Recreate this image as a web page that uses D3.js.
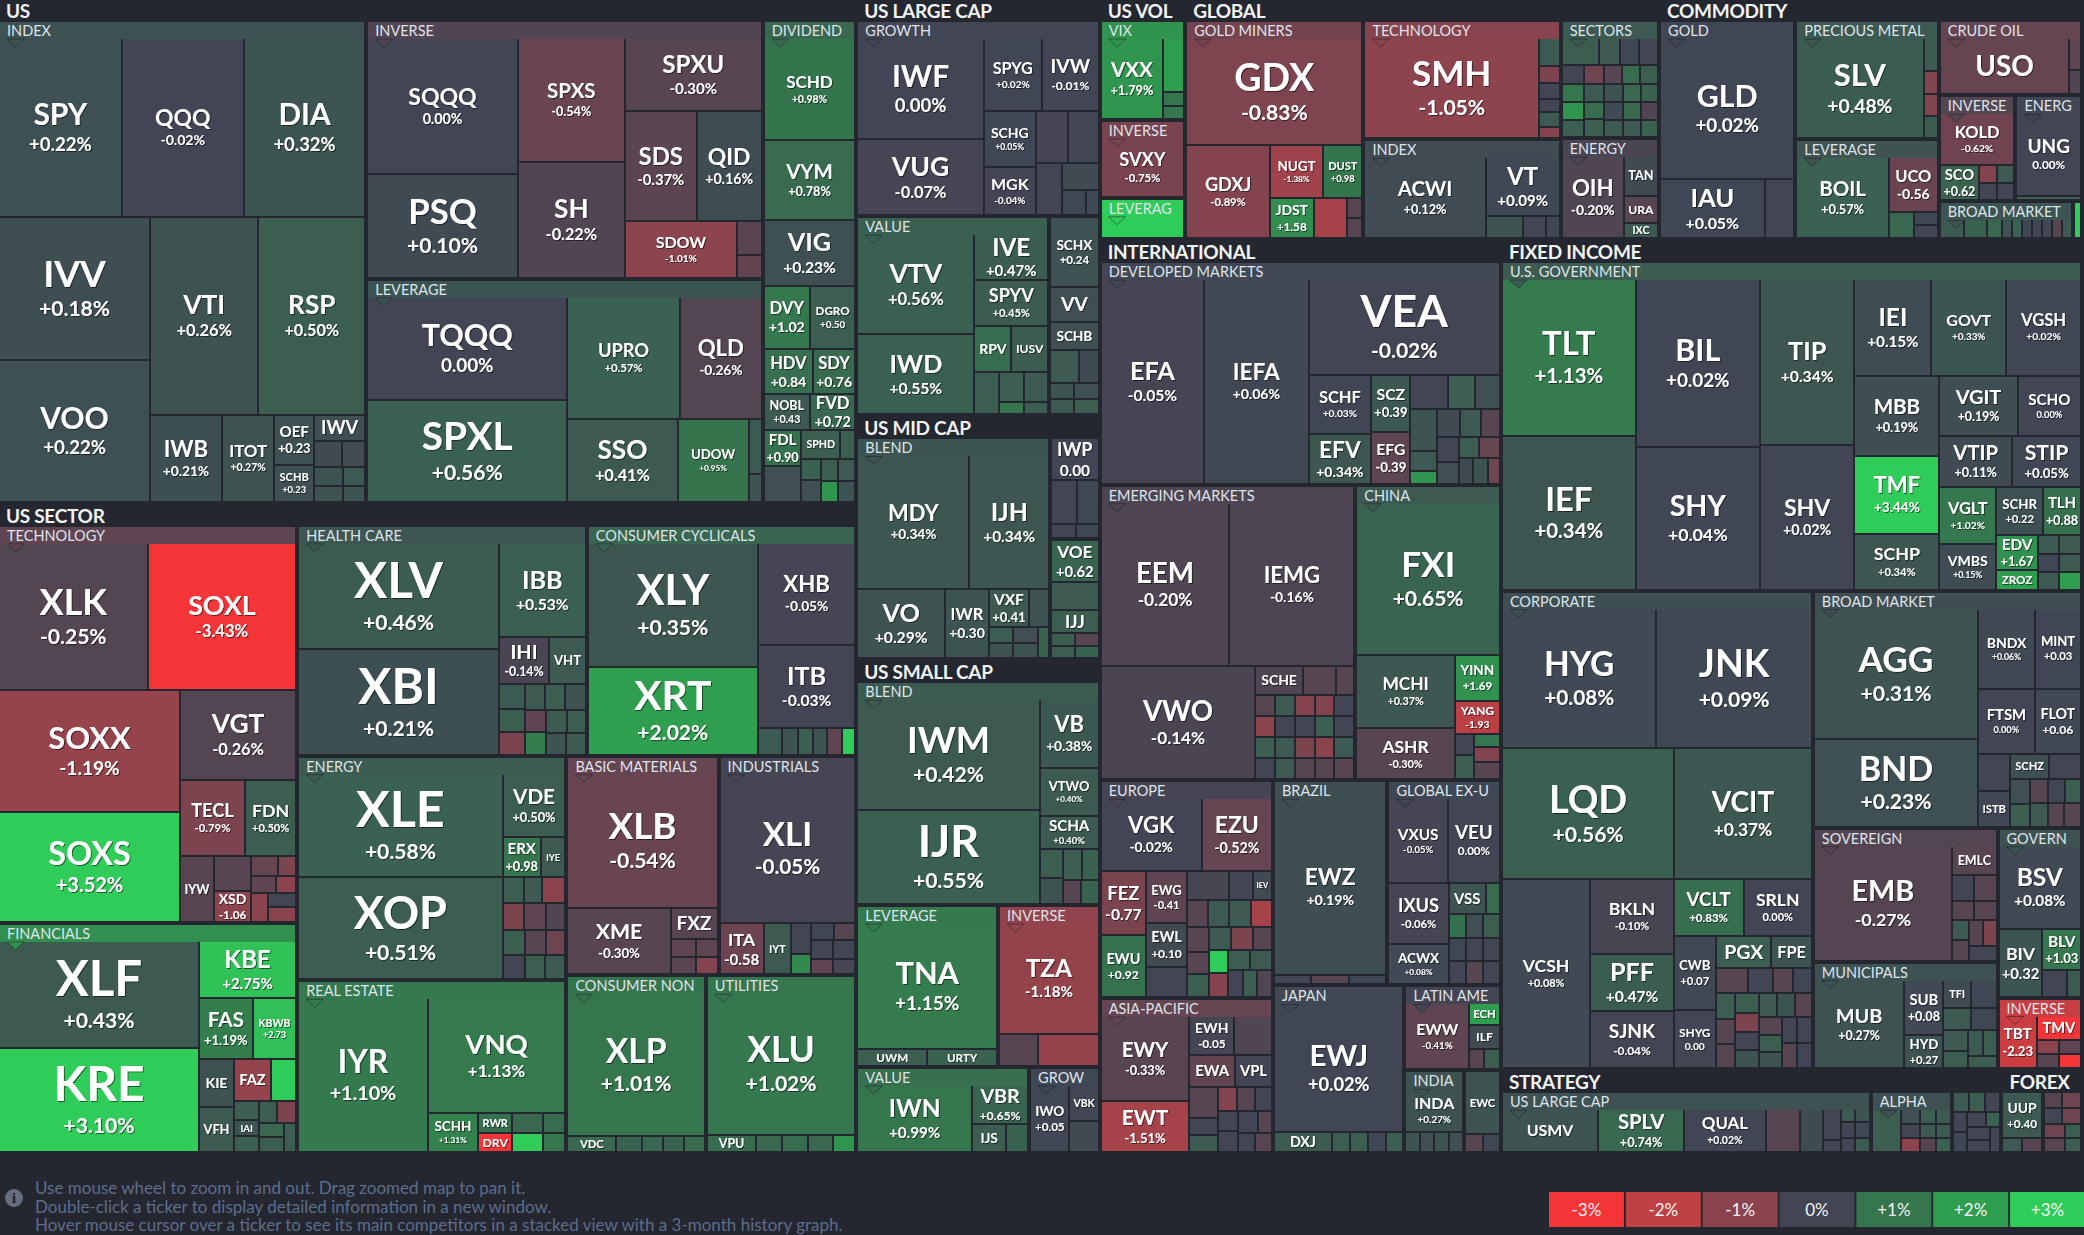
<!DOCTYPE html>
<html>
<head>
<meta charset="utf-8">
<script src="https://cdn.jsdelivr.net/npm/d3@7"></script>
<style>
  html, body { margin: 0; padding: 0; background: #24272f; overflow: hidden; }
  svg { display: block; font-family: Lato, "Open Sans", sans-serif; }
</style>
</head>
<body>
<svg id="map" width="2084" height="1235"></svg>
<script>
// ---- leaf tables: [ticker, % change, size] ----
// US
const usIndex = [["SPY",0.22,21.0],["QQQ",-0.02,20.9],["DIA",0.32,20.8],["IVV",0.18,20.7],["VOO",0.22,20.6],["VTI",0.26,20.5],["RSP",0.50,20.3],
  ["IWB",0.21,6.0],["ITOT",0.27,4.4],["OEF",0.23,1.9],["SCHB",0.23,1.4],["IWV",0.20,1.3],
  ["",0.10,0.7],["",0.12,0.6],["",0.30,0.5],["",0.28,0.45],["",0.40,0.4],["",0.30,0.35]];
const usInverse = [["SQQQ",0.00,19.8],["PSQ",0.10,15.0],["SPXS",-0.54,12.8],["SH",-0.22,12.0],["SPXU",-0.30,9.7],["SDS",-0.37,7.6],
  ["QID",0.16,6.9],["SDOW",-1.01,6.1],["",-0.35,0.8],["",-0.45,0.55]];
const usLeverage = [["TQQQ",0.00,20.0],["SPXL",0.56,19.8],["UPRO",0.57,13.4],["QLD",-0.26,9.7],["SSO",0.41,8.9],["UDOW",0.95,5.7],["",0.40,0.7],["",0.30,0.36]];
const usDividend = [["SCHD",0.98,9.1],["VYM",0.78,7.1],["VIG",0.23,5.8],["DVY",1.02,2.85],["DGRO",0.50,2.8],["HDV",0.84,2.15],["SDY",0.76,1.85],
  ["NOBL",0.43,1.6],["FVD",0.72,1.57],["FDL",0.90,1.33],["",0.20,1.3],["SPHD",0.50,1.1],["",0.50,0.43],["",0.60,0.41],["",0.20,0.41],
  ["",0.50,0.36],["",0.40,0.36],["",1.80,0.34],["",0.30,0.36]];

// US SECTOR
const secTech = [["XLK",-0.25,20.6],["SOXL",-3.43,20.6],["SOXX",-1.19,20.9],["SOXS",3.52,18.8],["VGT",-0.26,9.9],["TECL",-0.79,4.7],["FDN",0.50,3.7],
  ["IYW",-0.30,2.1],["",-0.30,1.2],["XSD",-1.06,1.1],["",-0.50,0.5],["",-0.80,0.34],["",-0.40,0.4],["",-1.00,0.33],["",-1.00,0.45],["",0.00,0.37],["",-1.00,0.4]];
const secFin = [["XLF",0.43,20.2],["KRE",3.10,19.8],["KBE",2.75,5.3],["FAS",1.19,3.1],["KBWB",2.73,2.5],["KIE",0.26,1.6],["VFH",0.40,1.5],["FAZ",-1.20,1.45],
  ["",3.00,1.0],["",0.50,0.46],["IAI",0.30,0.38],["",0.50,0.38],["",0.50,0.38],["",-0.80,0.4],["",0.70,0.34],["",0.50,0.34],["",0.50,0.34]];
const secHealth = [["XLV",0.46,20.0],["XBI",0.21,19.8],["IBB",0.53,7.7],["IHI",-0.14,2.2],["VHT",0.40,1.6],["",0.40,0.6],["",0.50,0.55],["",-0.80,0.55],
  ["",0.40,0.5],["",0.50,0.5],["",0.30,0.5],["",-0.40,0.45],["",1.20,0.45],["",0.40,0.45],["",0.50,0.4],["",0.30,0.4],["",0.40,0.4]];
const secConsCyc = [["XLY",0.35,19.7],["XRT",2.02,14.0],["XHB",-0.05,9.3],["ITB",-0.03,7.6],["",0.40,0.6],["",0.30,0.4],["",0.50,0.36],["",0.30,0.36],["",-0.40,0.36],["",3.00,0.34]];
const secEnergy = [["XLE",0.58,19.5],["XOP",0.51,19.4],["VDE",0.50,3.7],["ERX",0.98,1.4],["IYE",0.40,0.9],["",0.50,0.5],["",0.40,0.45],["",-1.00,0.55],
  ["",-0.80,0.55],["",-0.40,0.55],["",-0.20,0.5],["",0.50,0.5],["",0.00,0.5],["",-0.30,0.5],["",-0.60,0.45],["",0.50,0.45],["",0.40,0.45]];
const secRealEstate = [["IYR",1.10,19.1],["VNQ",1.13,15.1],["SCHH",1.31,1.9],["RWR",0.90,0.67],["DRV",-3.00,0.63],["",0.70,0.6],["",3.00,0.55],["",0.80,0.45],["",1.00,0.4]];
const secBasic = [["XLB",-0.54,19.0],["XME",-0.30,6.5],["FXZ",-0.30,1.4],["",-0.40,0.43],["",-0.35,0.4],["",-0.40,0.37],["",-0.90,0.36]];
const secIndustrials = [["XLI",-0.05,19.0],["ITA",-0.58,2.1],["IYT",0.40,1.3],["",0.00,0.58],["",1.50,0.37],["",0.05,0.36],["",-0.30,0.33],["",0.00,0.38],["",-0.40,0.31],["",0.00,0.4],["",-0.05,0.33]];
const secConsNon = [["XLP",1.01,18.9],["VDC",0.70,0.75],["",0.60,0.4],["",0.70,0.32],["",0.60,0.32],["",0.80,0.32]];
const secUtilities = [["XLU",1.02,18.6],["VPU",0.80,0.77],["",0.70,0.4],["",0.80,0.4],["",0.70,0.38],["",1.80,0.35]];

// US LARGE / MID / SMALL CAP
const lcGrowth = [["IWF",0.00,12.3],["VUG",-0.07,9.2],["SPYG",0.02,4.1],["IVW",-0.01,4.0],["SCHG",0.05,2.8],["MGK",-0.04,2.4],
  ["",-0.05,1.6],["",0.00,1.5],["",0.00,1.3],["",0.10,0.95],["",0.05,0.6],["",0.10,0.3]];
const lcValue = [["VTV",0.56,11.1],["IWD",0.55,8.9],["IVE",0.47,3.2],["SPYV",0.45,3.2],["RPV",0.82,1.6],["IUSV",0.45,1.6],
  ["",0.50,1.0],["",0.50,0.7],["",1.00,0.3],["",0.40,0.7],["",0.50,0.3]];
const lcBlend = [["SCHX",0.24,3.2],["VV",0.20,1.6],["SCHB",0.20,1.3],["",0.40,0.9],["",0.10,0.6],["",0.30,0.35],["",0.40,0.35],["",0.20,0.37],["",0.50,0.37]];
const mcBlend = [["MDY",0.34,13.8],["IJH",0.34,9.8],["VO",0.29,5.6],["IWR",0.30,2.8],["VXF",0.41,1.4],["",0.30,0.7],
  ["",0.50,0.36],["",0.30,0.35],["",0.20,0.36],["",0.30,0.34],["",0.60,0.33]];
const mcGrowth = [["IWP",0.00,1.7],["",0.00,0.96],["",0.05,0.8],["",0.00,0.3],["",0.05,0.28]];
const mcValue = [["VOE",0.62,1.7],["",0.40,1.1],["IJJ",0.50,0.95],["",0.50,0.25],["",0.50,0.25],["",-0.30,0.25],["",0.60,0.25]];
const scBlend = [["IWM",0.42,19.3],["IJR",0.55,16.5],["VB",0.38,3.9],["VTWO",0.40,2.7],["SCHA",0.40,1.9],["",0.50,0.65],["",0.30,0.6],
  ["",0.50,0.55],["",0.60,0.5],["",-0.30,0.4],["",0.60,0.4]];
const scLeverage = [["TNA",1.15,16.9],["UWM",0.50,1.1],["URTY",0.60,1.1]];
const scInverse = [["TZA",-1.18,10.7],["",-0.30,1.2],["",-1.20,1.9]];
const scValue = [["IWN",0.99,7.3],["VBR",0.65,2.1],["IJS",0.50,0.9],["",0.60,0.57]];
const scGrowth = [["IWO",0.05,2.5],["VBK",0.00,1.0],["",0.10,0.85]];

// US VOL
const volVix = [["VXX",1.79,4.9],["",2.00,1.1],["",1.00,0.27],["",1.00,0.27]];
const volInverse = [["SVXY",-0.75,4.8]];
const volLeverage = [["",3.00,1.85]];

// GLOBAL
const glGoldMiners = [["GDX",-0.83,18.3],["GDXJ",-0.89,7.5],["NUGT",-1.38,2.7],["DUST",0.98,2.0],["JDST",1.58,1.7],["",-1.50,1.3],["",-0.30,0.3],["",-0.30,0.3]];
const glTech = [["SMH",-1.05,16.6],["",0.40,0.55],["",-0.80,0.33],["",0.00,0.31],["",0.00,0.27],["",0.40,0.29],["",-0.90,0.22]];
const glIndex = [["ACWI",0.12,9.3],["VT",0.09,4.1],["",0.30,0.8],["",0.00,0.48],["",0.05,0.3]];
const glSectors = [["",0.50,0.9],["",0.40,0.5],["",0.05,0.47],["",0.00,0.45],["",0.00,0.36],["",1.00,0.35],["",1.80,0.35],["",0.50,0.34],
  ["",-0.60,0.34],["",0.40,0.33],["",0.80,0.32],["",0.50,0.32],["",-0.30,0.31],["",0.80,0.31],["",0.50,0.3],["",0.30,0.3],["",0.10,0.3],
  ["",0.40,0.29],["",0.70,0.29],["",0.60,0.28],["",0.70,0.28],["",0.40,0.27],["",-0.20,0.27],["",0.60,0.26]];
const glEnergy = [["OIH",-0.20,4.9],["TAN",0.10,1.3],["URA",-0.30,0.9],["IXC",0.40,0.5]];

// COMMODITY
const cmGold = [["GLD",0.02,17.9],["IAU",0.05,5.8],["",0.00,1.65]];
const cmPrecious = [["SLV",0.48,12.1],["",0.40,0.45],["",-0.90,0.3],["",-0.90,0.3],["",0.40,0.3]];
const cmLeverage = [["BOIL",0.57,7.0],["UCO",-0.56,2.5],["",0.70,0.62],["",0.05,0.3],["",0.00,0.28]];
const cmCrude = [["USO",-0.50,7.0],["",-0.40,0.36],["",-0.20,0.28]];
const cmInverse = [["KOLD",-0.62,3.55],["SCO",0.62,1.3],["",-0.90,0.29],["",0.40,0.29],["",0.00,0.29],["",0.00,0.29]];
const cmEnergy = [["UNG",0.00,5.1],["",0.50,0.3]];
const cmBroad = [["",0.40,0.44],["",0.60,0.4],["",0.70,0.27],["",0.30,0.18],["",0.60,0.18],["",0.05,0.18],["",0.00,0.18],["",0.00,0.18],["",-0.30,0.18],["",0.40,0.19]];
const cmAgri = [["",3.00,0.3]];

// INTERNATIONAL
const inDeveloped = [["EFA",-0.05,19.8],["IEFA",0.06,20.0],["VEA",-0.02,17.1],["SCHF",0.03,3.5],["EFV",0.34,2.9],["SCZ",0.39,2.1],["EFG",-0.39,1.9],
  ["",0.00,1.2],["",0.50,0.86],["",0.20,0.8],["",0.30,1.05],["",0.40,0.5],["",1.80,0.33],["",0.10,0.6],["",0.40,0.55],["",-0.30,0.5],
  ["",0.00,0.5],["",0.20,0.45],["",0.50,0.4],["",-0.50,0.4],["",0.10,0.35],["",0.30,0.35],["",-0.60,0.3]];
const inEmerging = [["EEM",-0.20,20.1],["IEMG",-0.16,19.5],["VWO",-0.14,16.7],["SCHE",-0.20,1.3],["",-0.30,0.9],["",-0.30,0.5],
  ["",-0.30,0.4],["",-1.00,0.4],["",0.50,0.4],["",0.00,0.4],["",0.40,0.4],["",-0.90,0.4],["",-0.90,0.4],["",0.00,0.4],["",0.00,0.4],["",0.40,0.4],
  ["",0.40,0.4],["",0.00,0.4],["",0.50,0.4],["",0.00,0.4],["",-0.80,0.4],["",-0.30,0.4],["",-1.00,0.4],["",0.40,0.4],["",-0.30,0.4],["",-0.30,0.4]];
const inChina = [["FXI",0.65,20.1],["MCHI",0.37,6.7],["ASHR",-0.30,4.6],["YINN",1.69,1.9],["YANG",-1.93,1.4],["",0.00,0.37],["",0.50,0.42],["",1.00,0.3],["",-0.90,0.35],["",-0.30,0.42]];
const inEurope = [["VGK",-0.02,6.6],["EZU",-0.52,4.6],["FEZ",-0.77,2.6],["EWU",0.92,2.5],["EWG",-0.41,1.9],["EWL",0.10,1.6],["",0.00,1.1],
  ["",-0.10,1.1],["",0.00,0.6],["IEV",0.10,0.5],["",-0.30,0.5],["",0.40,0.5],["",0.40,0.5],["",-1.50,0.5],["",-0.30,0.5],["",-0.30,0.45],
  ["",0.50,0.45],["",0.40,0.45],["",-0.80,0.45],["",-0.30,0.4],["",3.00,0.4],["",-0.90,0.4],["",0.50,0.4],["",0.40,0.4],["",0.00,0.35],["",0.50,0.35],["",-0.20,0.35]];
const inAsia = [["EWY",-0.33,7.1],["EWT",-1.51,4.3],["EWH",-0.05,1.65],["",-0.20,1.4],["EWA",-0.43,1.35],["VPL",0.00,1.1],["",-0.30,0.85],
  ["",0.00,0.45],["",0.40,0.45],["",-0.90,0.45],["",-0.30,0.4],["",0.00,0.4],["",0.00,0.4],["",0.00,0.4],["",0.00,0.4],["",-0.30,0.3],["",0.00,0.3],["",-0.30,0.3]];
const inBrazil = [["EWZ",0.19,19.3],["",0.00,0.33],["",-0.30,0.33],["",0.05,0.33]];
const inGlobalEx = [["VXUS",-0.05,4.8],["VEU",0.00,4.2],["IXUS",-0.06,3.5],["ACWX",0.08,2.3],["VSS",0.30,1.1],["",0.80,0.42],["",0.90,0.38],
  ["",0.20,0.38],["",0.50,0.38],["",0.05,0.38],["",0.00,0.38],["",0.00,0.38],["",0.00,0.38],["",-0.30,0.38],["",0.00,0.38]];
const inJapan = [["EWJ",0.02,16.0],["DXJ",0.40,1.1],["",0.50,0.34],["",0.50,0.34],["",0.05,0.34],["",0.50,0.34]];
const inLatin = [["EWW",-0.41,4.0],["ECH",2.00,0.64],["ILF",0.10,0.7],["",-0.30,0.3],["",0.50,0.3]];
const inIndia = [["INDA",0.27,2.5],["",0.30,0.28],["",0.20,0.28],["",0.30,0.28],["",0.20,0.28]];
const inCanada = [["EWC",0.30,1.9],["",-0.30,0.28],["",0.05,0.28]];

// FIXED INCOME
const fiGov = [["TLT",1.13,20.3],["IEF",0.34,20.0],["BIL",0.02,20.2],["SHY",0.04,17.2],["TIP",0.34,15.2],["SHV",0.02,13.3],["IEI",0.15,7.2],
  ["GOVT",0.33,7.0],["VGSH",0.02,7.0],["MBB",0.19,6.6],["TMF",3.44,6.4],["SCHP",0.34,4.6],["VGIT",0.19,4.6],["SCHO",0.00,3.7],["VTIP",0.11,3.6],
  ["STIP",0.05,3.4],["VGLT",1.02,3.2],["VMBS",0.15,2.5],["SCHR",0.22,2.2],["TLH",0.88,1.8],["EDV",1.67,1.36],["ZROZ",2.00,0.8],
  ["",0.40,0.38],["",0.40,0.38],["",0.05,0.38],["",0.40,0.38],["",0.40,0.38],["",2.00,0.38]];
const fiCorp = [["HYG",0.08,20.0],["JNK",0.09,20.1],["LQD",0.56,20.8],["VCIT",0.37,16.6],["VCSH",0.08,15.5],["BKLN",-0.10,5.8],["PFF",0.47,4.4],
  ["SJNK",-0.04,4.4],["VCLT",0.83,3.7],["SRLN",0.00,3.6],["CWB",0.07,2.9],["SHYG",0.00,2.3],["PGX",0.50,1.65],["FPE",0.30,1.2],
  ["",-0.30,0.75],["",0.00,0.6],["",-0.30,0.45],["",0.05,0.45],["",0.50,0.45],["",-0.30,0.45],["",-0.30,0.42],["",0.50,0.42],["",-0.80,0.42],
  ["",0.00,0.4],["",0.30,0.4],["",0.40,0.4],["",0.30,0.4],["",-0.30,0.38],["",-0.30,0.38],["",0.50,0.38],["",0.30,0.36],["",0.00,0.35],
  ["",0.00,0.35],["",-0.30,0.34],["",0.00,0.34]];
const fiBroad = [["AGG",0.31,19.8],["BND",0.23,13.3],["BNDX",0.06,4.2],["MINT",0.03,3.4],["FTSM",0.00,3.4],["FLOT",0.06,2.8],["",0.00,1.1],
  ["ISTB",0.05,1.05],["SCHZ",0.20,0.9],["",0.00,0.74],["",0.20,0.45],["",0.50,0.4],["",-0.30,0.4],["",0.40,0.4],["",0.05,0.38],["",0.50,0.36],
  ["",-0.30,0.36],["",-0.30,0.36]];
const fiSovereign = [["EMB",-0.27,14.8],["EMLC",-0.30,1.2],["",0.00,0.55],["",-0.30,0.55],["",-0.30,0.38],["",-0.30,0.38],["",0.40,0.33],
  ["",-0.30,0.33],["",-0.30,0.33],["",-0.80,0.35],["",0.00,0.36]];
const fiMuni = [["MUB",0.27,7.8],["SUB",0.08,2.1],["HYD",0.27,1.25],["TFI",0.10,0.75],["",0.05,0.7],["",0.40,0.6],["",0.05,0.55],["",0.40,0.5],
  ["",0.50,0.4],["",0.40,0.38],["",0.50,0.35],["",0.50,0.35]];
const fiGovern = [["BSV",0.08,6.5],["BIV",0.32,2.8],["BLV",1.03,1.5],["",0.00,0.6],["",0.40,0.36]];
const fiInverse = [["TBT",-2.23,1.9],["TMV",-3.00,1.0],["",-1.00,0.3],["",-0.30,0.3],["",-0.40,0.3],["",-3.00,0.3]];

// STRATEGY / FOREX
const stLargeCap = [["USMV",0.30,3.9],["SPLV",0.74,3.5],["QUAL",0.02,3.3],["",-0.30,1.4],["",0.10,0.95],["",0.00,0.5],["",0.00,0.2],
  ["",0.40,0.18],["",0.30,0.18],["",0.00,0.2],["",0.05,0.22],["",0.00,0.2],["",0.40,0.2]];
const stAlpha = [["",0.50,1.16],["",0.20,0.25],["",0.00,0.25],["",-1.00,0.25],["",0.50,0.22],["",0.40,0.22],["",0.40,0.2],["",-0.30,0.2],["",0.40,0.2],["",0.60,0.2]];
const stOther = [["",0.40,0.28],["",0.50,0.28],["",0.00,0.28],["",0.00,0.25],["",0.05,0.25],["",0.00,0.25],["",0.60,0.2],["",0.00,0.27],["",0.00,0.24],["",0.00,0.24]];
const fxDollar = [["UUP",0.40,1.7],["",0.40,0.25],["",-0.30,0.25]];
const fxOther = [["",-0.30,0.28],["",-0.60,0.28],["",0.00,0.28],["",-0.60,0.28],["",-0.60,0.28],["",-0.30,0.28],["",0.50,0.2],["",0.50,0.2]];

// ---- subgroups: [name, size, leaves] ----
const usSubs = [["INDEX",171.5,usIndex],["INVERSE",98.9,usInverse],["LEVERAGE",85.7,usLeverage],["DIVIDEND",43.6,usDividend]];
const sectorSubs = [["TECHNOLOGY",113,secTech],["FINANCIALS",65.3,secFin],["HEALTH CARE",63.4,secHealth],["CONSUMER CYCLICALS",59,secConsCyc],
  ["ENERGY",57.4,secEnergy],["REAL ESTATE",44.1,secRealEstate],["BASIC MATERIALS",31.7,secBasic],["INDUSTRIALS",28.7,secIndustrials],
  ["CONSUMER NON-CYCLICALS",23.5,secConsNon],["UTILITIES",25.4,secUtilities]];
const largeSubs = [["GROWTH",46,lcGrowth],["VALUE",37,lcValue],["BLEND",9.7,lcBlend]];
const midSubs = [["BLEND",40.4,mcBlend],["GROWTH",4.75,mcGrowth],["VALUE",5.6,mcValue]];
const smallSubs = [["BLEND",52,scBlend],["LEVERAGE",21.9,scLeverage],["INVERSE",15.7,scInverse],["VALUE",14.2,scValue],["GROWTH",5.8,scGrowth]];
const volSubs = [["VIX",8.2,volVix],["INVERSE",6.4,volInverse],["LEVERAGE",3.4,volLeverage]];
const globalSubs = [["GOLD MINERS",37.3,glGoldMiners],["TECHNOLOGY",22.5,glTech],["INDEX",18.8,glIndex],["SECTORS",11.1,glSectors],["ENERGY",9.5,glEnergy]];
const commoditySubs = [["GOLD",27.9,cmGold],["PRECIOUS METALS",16,cmPrecious],["LEVERAGE",13.4,cmLeverage],["CRUDE OIL",10.1,cmCrude],
  ["INVERSE",7.6,cmInverse],["ENERGY",6.6,cmEnergy],["BROAD MARKET",4.75,cmBroad],["AGRICULTURE",0.3,cmAgri]];
const intlSubs = [["DEVELOPED MARKETS",85.5,inDeveloped],["EMERGING MARKETS",72,inEmerging],["CHINA",41,inChina],["EUROPE",36,inEurope],
  ["ASIA-PACIFIC",25.6,inAsia],["BRAZIL",22.4,inBrazil],["GLOBAL EX-US",22.2,inGlobalEx],["JAPAN",21,inJapan],["LATIN AMERICA",7.8,inLatin],
  ["INDIA",4.7,inIndia],["CANADA",2.9,inCanada]];
const fixedSubs = [["U.S. GOVERNMENT",180,fiGov],["CORPORATE",140.4,fiCorp],["BROAD MARKET",60,fiBroad],["SOVEREIGN",23.3,fiSovereign],
  ["MUNICIPALS",18.7,fiMuni],["GOVERNMENT",13.5,fiGovern],["INVERSE",5.7,fiInverse]];
const strategySubs = [["US LARGE CAP",21.8,stLargeCap],["ALPHA",4.8,stAlpha],["OTHER",2.9,stOther]];
const forexSubs = [["DOLLAR",2.2,fxDollar],["OTHER",2.1,fxOther]];

// ---- top level groups: [name, size, subgroups] ----
const topGroups = [["US",424,usSubs],["US SECTOR",546,sectorSubs],["US LARGE CAP",99.4,largeSubs],["US MID CAP",58,midSubs],
  ["US SMALL CAP",117.6,smallSubs],["US VOL",20.2,volSubs],["GLOBAL",111.8,globalSubs],["COMMODITY",99.8,commoditySubs],
  ["INTERNATIONAL",358.8,intlSubs],["FIXED INCOME",472,fixedSubs],["STRATEGY",41,strategySubs],["FOREX",6.6,forexSubs]];

const legendLabels = ["-3%","-2%","-1%","0%","+1%","+2%","+3%"];
const legendValues = [-3,-2,-1,0,1,2,3];
const footerLines = [
  "Use mouse wheel to zoom in and out. Drag zoomed map to pan it.",
  "Double-click a ticker to display detailed information in a new window.",
  "Hover mouse cursor over a ticker to see its main competitors in a stacked view with a 3-month history graph."
];

// ---- drawing ----
const W = 2080, H = 1151;
const svg = d3.select('#map');
svg.append('rect').attr('width', 2084).attr('height', 1235).attr('fill', '#24272f');

svg.append('defs').append('filter').attr('id', 'shadow')
  .attr('x', '-20%').attr('y', '-30%').attr('width', '140%').attr('height', '160%')
  .append('feDropShadow').attr('dx', 1).attr('dy', 1).attr('stdDeviation', 0.6)
  .attr('flood-color', '#000').attr('flood-opacity', 0.55);

const color = d3.scaleLinear()
  .domain(legendValues)
  .range(['#f63538', '#bf4045', '#8b444e', '#414554', '#35764e', '#2f9e4f', '#30cc5a'])
  .clamp(true);

const tree = {
  name: 'root',
  children: topGroups.map(([name, size, subs]) => ({
    name, size,
    children: subs.map(([n, s, leaves]) => ({
      name: n, size: s,
      children: leaves.map(([t, c, v]) => ({ name: t, change: c, size: v }))
    }))
  }))
};

const root = d3.hierarchy(tree).sum(d => d.children ? 0 : d.size);
// every group keeps its own measured share; its children split it by their sizes
root.value = d3.sum(root.children, c => c.data.size);
root.eachBefore(node => {
  if (!node.children) return;
  const s = d3.sum(node.children, c => c.data.size);
  node.children.forEach(c => { c.value = c.data.size * node.value / s; });
});

const hasHeader = n => (n.x1 - n.x0) >= 55 && (n.y1 - n.y0) >= 30;

d3.treemap()
  .size([W, H])
  .tile(d3.treemapSquarify.ratio(1))
  .paddingInner(n => n.depth < 2 ? 4 : 2)
  .paddingTop(n => n.depth === 1 ? 22 : (n.depth === 2 && hasHeader(n) ? 17 : 0))
  (root);

const ctx = document.createElement('canvas').getContext('2d');
function textW(s, size, weight) {
  ctx.font = weight + ' ' + size + 'px Lato';
  return ctx.measureText(s).width;
}

// tiles
const leaves = root.leaves();
svg.append('g').attr('shape-rendering', 'crispEdges')
  .selectAll('rect')
  .data(leaves)
  .join('rect')
  .attr('x', d => d.x0)
  .attr('y', d => d.y0)
  .attr('width', d => Math.max(0, d.x1 - d.x0))
  .attr('height', d => Math.max(0, d.y1 - d.y0))
  .attr('fill', d => color(d.data.change));

// subgroup headers
const subs = root.descendants().filter(d => d.depth === 2 && hasHeader(d));
const hdr = svg.append('g');
subs.forEach(d => {
  const lv = d.leaves();
  const avg = d3.sum(lv, l => l.data.change * l.data.size) / d3.sum(lv, l => l.data.size);
  const c = color(avg);
  hdr.append('rect').attr('shape-rendering', 'crispEdges')
    .attr('x', d.x0).attr('y', d.y0).attr('width', d.x1 - d.x0).attr('height', 17)
    .attr('fill', c);
  hdr.append('path')
    .attr('d', `M${d.x0 + 7},${d.y0 + 17}L${d.x0 + 24},${d.y0 + 17}L${d.x0 + 15.5},${d.y0 + 25}Z`)
    .attr('fill', c).attr('stroke', 'rgba(20,22,28,0.45)').attr('stroke-width', 1);
  let label = d.data.name;
  const maxW = d.x1 - d.x0 - 14;
  while (label.length > 1 && textW(label, 14.5, 400) > maxW) label = label.slice(0, -1);
  hdr.append('text')
    .attr('x', d.x0 + 7).attr('y', d.y0 + 14)
    .attr('font-size', 14.5).attr('fill', '#dfe3ea')
    .text(label.trim());
});

// top level headers
svg.append('g').selectAll('text')
  .data(root.children)
  .join('text')
  .attr('x', d => d.x0 + 6)
  .attr('y', d => d.y0 + 18)
  .attr('font-size', 19).attr('font-weight', 700).attr('fill', '#f2f3f5')
  .attr('letter-spacing', -0.3)
  .text(d => d.data.name);

// tile labels
const lab = svg.append('g').attr('filter', 'url(#shadow)')
  .attr('fill', '#fff').attr('font-weight', 700).attr('text-anchor', 'middle');
const minR = textW('XXX', 100, 700) / 100 * 0.92;
leaves.forEach(d => {
  const t = d.data.name;
  if (!t) return;
  const w = d.x1 - d.x0, h = d.y1 - d.y0;
  const r = Math.max(textW(t, 100, 700) / 100, minR);
  const frac = w >= 100 ? 0.46 : w <= 45 ? 0.78 : 0.78 - (w - 45) / 55 * 0.32;
  let fs = Math.min(frac * w / r, 64);
  const c = d.data.change;
  const pct = w >= 48;
  const ct = (c > 0 ? '+' : '') + c.toFixed(2) + (pct ? '%' : '');
  let cfs = pct ? Math.min(fs * 0.62, 21) : fs * 0.85;
  cfs = Math.min(cfs, 0.9 * w / (textW(ct, 100, 700) / 100));
  const cx = (d.x0 + d.x1) / 2, cy = (d.y0 + d.y1) / 2;
  const roomy = w >= 35 && h >= 28 && !(w / h > 2.15 && h < 60);
  if (roomy && cfs >= 7 && h >= fs * 0.94 + cfs * 1.0 + 3) {
    // keep the two lines' glyph boxes apart (ascent ~0.99em, descent ~0.21em)
    const capT = fs * 0.72, capC = cfs * 0.72, gap = fs * 0.215 + cfs * 0.27 + 0.5;
    const top = cy - (capT + gap + capC) / 2;
    lab.append('text').attr('x', cx).attr('y', top + capT).attr('font-size', fs.toFixed(1)).text(t);
    lab.append('text').attr('x', cx).attr('y', top + capT + gap + capC).attr('font-size', cfs.toFixed(1)).text(ct);
  } else {
    fs = Math.min(fs, h * 0.8);
    if (fs < 7) return;
    lab.append('text').attr('x', cx).attr('y', cy + fs * 0.36).attr('font-size', fs.toFixed(1)).text(t);
  }
});

// footer info
const foot = svg.append('g');
foot.append('circle').attr('cx', 14).attr('cy', 1198).attr('r', 9).attr('fill', '#666e80');
foot.append('text').attr('x', 14).attr('y', 1203).attr('text-anchor', 'middle')
  .attr('font-size', 13).attr('font-weight', 700).attr('fill', '#24272f').attr('font-family', 'DejaVu Serif, serif').text('i');
foot.selectAll('text.line')
  .data(footerLines)
  .join('text')
  .attr('class', 'line')
  .attr('x', 35)
  .attr('y', (d, i) => 1194 + i * 18.5)
  .attr('font-size', 17)
  .attr('fill', '#5d6d8e')
  .text(d => d);

// legend
const lx = d3.scaleBand().domain(legendLabels).range([1549, 2085]).paddingInner(0.025);
const leg = svg.append('g');
leg.selectAll('rect')
  .data(legendLabels)
  .join('rect')
  .attr('x', d => lx(d)).attr('y', 1192)
  .attr('width', lx.bandwidth()).attr('height', 35)
  .attr('fill', (d, i) => color(legendValues[i]));
leg.selectAll('text')
  .data(legendLabels)
  .join('text')
  .attr('x', d => lx(d) + lx.bandwidth() / 2).attr('y', 1216)
  .attr('text-anchor', 'middle').attr('font-size', 17).attr('fill', '#f4f4f4')
  .text(d => d);
</script>
</body>
</html>
